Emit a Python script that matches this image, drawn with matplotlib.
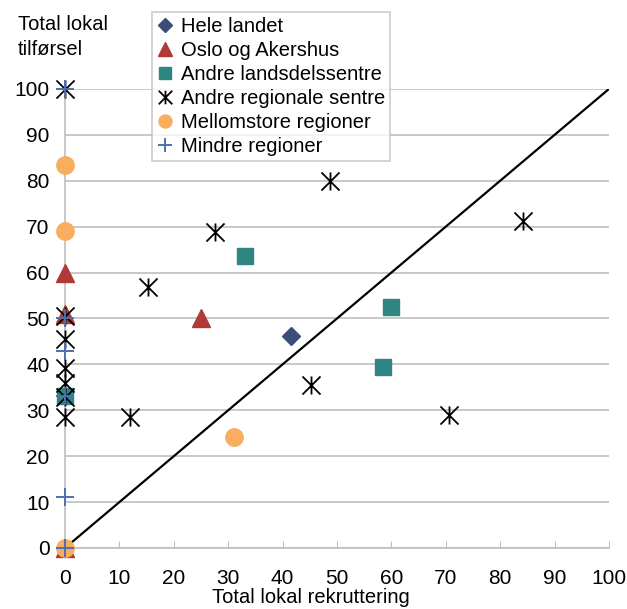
import matplotlib.pyplot as plt
from matplotlib.path import Path

plt.rcParams['font.family'] = ['Liberation Sans', 'DejaVu Sans']

# data per series: (total lokal rekruttering, total lokal tilførsel)
hele_x = [41.5]
hele_y = [46.2]
oslo_x = [0, 0, 0, 25]
oslo_y = [0, 60, 51, 50]
landsdel_x = [33, 60, 58.4, 0]
landsdel_y = [63.6, 52.5, 39.4, 33]
regional_x = [0, 0, 0, 0, 0, 0, 0, 12, 15.2, 27.6, 48.8, 45.2, 70.6, 84.2]
regional_y = [100, 50.5, 45.5, 39.2, 36, 32.8, 28.5, 28.6, 56.9, 68.8, 80, 35.5, 28.9, 71.3]
mellom_x = [0, 0, 0, 31.1]
mellom_y = [83.4, 69, 0, 24.2]
mindre_x = [0, 0, 0, 0, 0, 0]
mindre_y = [100, 50, 43, 33, 11, 0]

diag = [0, 100]
ticks = list(range(0, 101, 10))

star = Path([(-1, -1), (1, 1), (-1, 1), (1, -1), (0, -1), (0, 1)],
            [Path.MOVETO, Path.LINETO, Path.MOVETO, Path.LINETO, Path.MOVETO, Path.LINETO])

fig = plt.figure(figsize=(6.27, 6.09), dpi=100)
ax = fig.add_axes([0.1037, 0.1002, 0.8676, 0.7538])

ax.plot(diag, diag, color='black', lw=1.6, zorder=2)

kw = dict(ls='none', zorder=3, clip_on=False)
ax.plot(hele_x, hele_y, 'D', color='#3B4E7A', ms=9, label='Hele landet', **kw)
ax.plot(oslo_x, oslo_y, '^', color='#B03A35', ms=13, label='Oslo og Akershus', **kw)
ax.plot(landsdel_x, landsdel_y, 's', color='#2E8582', ms=11.5, label='Andre landsdelssentre', **kw)
ax.plot(regional_x, regional_y, marker=star, color='black', mfc='none', mec='black', mew=1.3, ms=13,
        label='Andre regionale sentre', **kw)
ax.plot(mellom_x, mellom_y, 'o', color='#F9AD5E', ms=12.5, label='Mellomstore regioner', **kw)
ax.plot(mindre_x, mindre_y, '+', color='#4F6FAF', mew=1.4, ms=13, label='Mindre regioner', **kw)

ax.set_xlim(0, 100)
ax.set_ylim(0, 100)
ax.set_xticks(ticks)
ax.set_yticks(ticks)
ax.grid(axis='y', color='#BFBFBF', lw=1.2)
ax.set_axisbelow(True)
for s in ['top', 'right']:
    ax.spines[s].set_visible(False)
for s in ['left', 'bottom']:
    ax.spines[s].set_color('#BFBFBF')
    ax.spines[s].set_linewidth(1.2)
ax.tick_params(axis='x', direction='in', length=5, color='#BFBFBF', labelsize=15, pad=15)
ax.tick_params(axis='y', length=0, labelsize=15, pad=11)

ax.set_xlabel('Total lokal rekruttering', fontsize=14.5)
ax.xaxis.set_label_coords(0.452, -0.088)
fig.text(0.029, 0.975, 'Total lokal\ntilførsel', fontsize=14.5, ha='left', va='top', linespacing=1.4)

leg = fig.legend(loc='upper left', bbox_to_anchor=(0.2424, 0.98), fontsize=14.5, frameon=True,
                 fancybox=False, edgecolor='#BFBFBF', borderaxespad=0, markerscale=0.75,
                 handlelength=0.8, handletextpad=0.4, labelspacing=0.25, borderpad=0.25)
leg.get_frame().set_linewidth(1.2)

fig.savefig('out.png', dpi=100)
